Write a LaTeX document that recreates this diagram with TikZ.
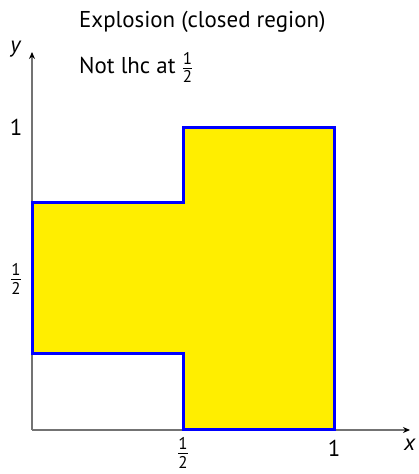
\documentclass[tikz,border=0pt]{standalone}
\usepackage{fontspec}
\setmainfont{PT Sans}
\usetikzlibrary{arrows.meta}
\newcommand{\myhalf}{$\frac{\hbox{\fontsize{17}{17}\selectfont 1}}{\hbox{\fontsize{17}{17}\selectfont 2}}$}
\tikzset{
  axis/.style={draw=black!55, line width=1.3bp, -{Stealth[length=7bp,width=6bp,black]}},
  region/.style={draw=blue, fill={rgb,255:red,255;green,238;blue,0}, line width=3bp, line join=miter},
  lbl/.style={font=\fontsize{23}{27}\selectfont, inner sep=0pt},
}
\begin{document}
\begin{tikzpicture}[x=1bp,y=1bp]
\useasboundingbox (-32,-44) rectangle (386,430);
\coordinate (O) at (0,0);
\coordinate (xend) at (378,0);
\coordinate (yend) at (0,378);
\draw[axis] (O) -- (xend);
\draw[axis] (O) -- (yend);
\draw[region] (0,76) -- (151,76) -- (151,0) -- (302,0) -- (302,302) -- (151,302) -- (151,227) -- (0,227) -- cycle;
\node[lbl, anchor=base west] (t1) at (47,402) {Explosion (closed region)};
\node[lbl, anchor=base west] (t2) at (47,356) {Not lhc at \myhalf};
\node[lbl] (ylab) at (-16,381) {\textit{y}};
\node[lbl] (xlab) at (378,-15) {\textit{x}};
\node[lbl] (y1) at (-16,303) {1};
\node[lbl] (yh) at (-16,151) {\myhalf};
\node[lbl] (x1) at (302,-18) {1};
\node[lbl] (xh) at (151,-23) {\myhalf};
\end{tikzpicture}
\end{document}
